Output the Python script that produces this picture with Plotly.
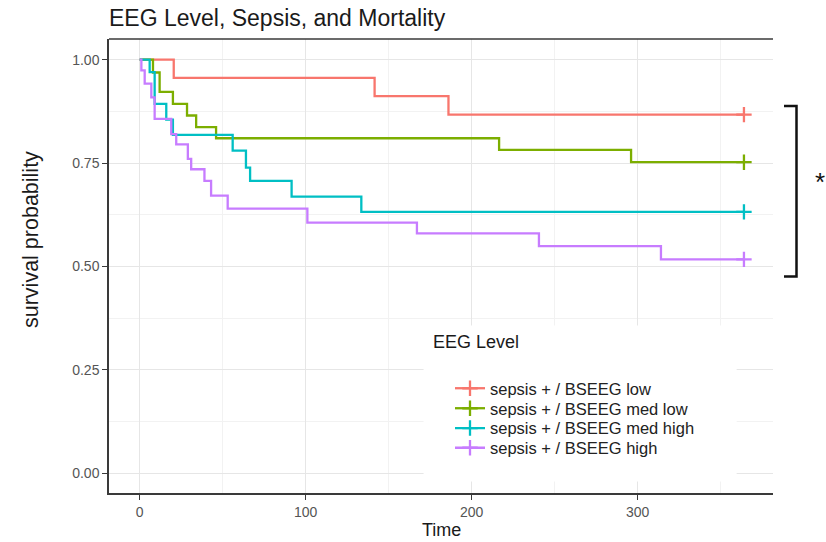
import plotly.graph_objects as go

# Kaplan-Meier step estimates per BSEEG group (time in days, survival probability)
groups = ["sepsis + / BSEEG low", "sepsis + / BSEEG med low",
          "sepsis + / BSEEG med high", "sepsis + / BSEEG high"]
colors = ["#F8766D", "#7CAE00", "#00BFC4", "#C77CFF"]

low_time = [0, 20.5, 141.5, 186]
low_surv = [1.0, 0.956, 0.912, 0.867]

medlow_time = [0, 8, 12, 20, 28.5, 34, 46, 216.5, 296]
medlow_surv = [1.0, 0.969, 0.922, 0.893, 0.865, 0.837, 0.81, 0.782, 0.752]

medhigh_time = [0, 6, 9, 16, 20, 56, 64, 66.5, 91.5, 133.5]
medhigh_surv = [1.0, 0.97, 0.893, 0.855, 0.818, 0.78, 0.739, 0.707, 0.669, 0.632]

high_time = [0, 1, 3, 7, 9, 19, 22, 29, 31, 39, 43, 53, 101, 167, 240.5, 314]
high_surv = [1.0, 0.974, 0.942, 0.909, 0.857, 0.82, 0.795, 0.76, 0.735, 0.707,
             0.671, 0.64, 0.606, 0.58, 0.549, 0.517]

# last follow-up (censored) time, shared by all groups
end_time = 364

x_ticks = [0, 100, 200, 300]
y_ticks = [0.0, 0.25, 0.5, 0.75, 1.0]

series = [(low_time, low_surv), (medlow_time, medlow_surv),
          (medhigh_time, medhigh_surv), (high_time, high_surv)]
legend_ids = ["legend", "legend2", "legend3", "legend4"]

FONT = "Liberation Sans, Arial, sans-serif"

fig = go.Figure()
for (t, s), name, col, lg in zip(series, groups, colors, legend_ids):
    xs = list(t) + [end_time]
    ys = list(s) + [s[-1]]
    fig.add_trace(go.Scatter(
        x=xs, y=ys, mode="lines", line=dict(color=col, width=2.3, shape="hv"),
        showlegend=False, hoverinfo="skip"))
    # censoring mark at the end of follow-up, also used as the legend key
    fig.add_trace(go.Scatter(
        x=[end_time], y=[s[-1]], mode="lines+markers", name=name,
        line=dict(color=col, width=2.3),
        marker=dict(symbol="cross-thin", size=11, line=dict(color=col, width=2.3)),
        legend=lg))

# plot area in pixels: left 109, right 773, top 39, bottom 493
L, R, T, B = 109, 773, 39, 493
W, H = 826, 542


def px_x(p):
    return (p - L) / (R - L)


def px_y(p):
    return (B - p) / (B - T)


legend_rows = [388.5, 408.5, 428.3, 448.0]
legend_layout = {}
for lg, row in zip(legend_ids, legend_rows):
    legend_layout[lg] = dict(
        x=px_x(450), y=px_y(row), xanchor="left", yanchor="middle",
        bgcolor="rgba(0,0,0,0)", borderwidth=0,
        font=dict(family=FONT, size=16.5, color="#222222"))

axis_common = dict(
    showline=True, linecolor="#3a3a3a", linewidth=1.5,
    ticks="outside", ticklen=5, tickwidth=1.3, tickcolor="#3a3a3a",
    tickfont=dict(family=FONT, size=14, color="#555555"),
    showgrid=True, gridcolor="#e6e6e6", gridwidth=1,
    zeroline=False, automargin=False,
)

fig.update_layout(
    width=W, height=H,
    margin=dict(l=L, r=W - R, t=T, b=H - B, autoexpand=False),
    paper_bgcolor="white", plot_bgcolor="white",
    font=dict(family=FONT, color="#1a1a1a"),
    title=dict(text="EEG Level, Sepsis, and Mortality", x=0, xref="paper",
               xanchor="left", y=1 - 18 / H, yanchor="middle",
               font=dict(family=FONT, size=23, color="#1a1a1a")),
    xaxis=dict(range=[-18.5, 381.5], tickvals=x_ticks,
               minor=dict(tickvals=[50, 150, 250, 350], showgrid=True,
                          gridcolor="#f2f2f2", ticks=""),
               **axis_common),
    yaxis=dict(range=[-0.048, 1.05], tickvals=y_ticks, tickformat=".2f",
               minor=dict(tickvals=[0.125, 0.375, 0.625, 0.875], showgrid=True,
                          gridcolor="#f2f2f2", ticks=""),
               **axis_common),
    **legend_layout,
)

shapes = [
    # top panel border
    dict(type="line", xref="paper", yref="paper", x0=0, x1=1, y0=1, y1=1,
         line=dict(color="#3a3a3a", width=1.5)),
    # legend background hiding the grid
    dict(type="rect", xref="x", yref="y", x0=171, x1=359.6, y0=-0.02, y1=0.357,
         fillcolor="white", line=dict(width=0), layer="between"),
    # significance bracket
    dict(type="path", xref="paper", yref="paper",
         path=f"M {px_x(784)},{px_y(106)} L {px_x(796.5)},{px_y(106)} "
              f"L {px_x(796.5)},{px_y(276.5)} L {px_x(784)},{px_y(276.5)}",
         line=dict(color="#111111", width=2.5)),
]
fig.update_layout(shapes=shapes)

# axis titles
fig.add_annotation(text="Time", xref="paper", yref="paper",
                   x=px_x(441), y=px_y(530), xanchor="center", yanchor="middle",
                   showarrow=False, font=dict(family=FONT, size=18, color="#1a1a1a"))
fig.add_annotation(text="survival probability", xref="paper", yref="paper",
                   x=px_x(31), y=px_y(240), xanchor="center", yanchor="middle",
                   textangle=-90, showarrow=False,
                   font=dict(family=FONT, size=21.5, color="#1a1a1a"))

fig.add_annotation(text="EEG Level", xref="paper", yref="paper",
                   x=px_x(431), y=px_y(342), xanchor="left", yanchor="middle",
                   showarrow=False, font=dict(family=FONT, size=18, color="#1a1a1a"))
fig.add_annotation(text="*", xref="paper", yref="paper",
                   x=px_x(820), y=px_y(182), xanchor="center", yanchor="middle",
                   showarrow=False, font=dict(family=FONT, size=26, color="#111111"))

fig.write_html("out.html")
